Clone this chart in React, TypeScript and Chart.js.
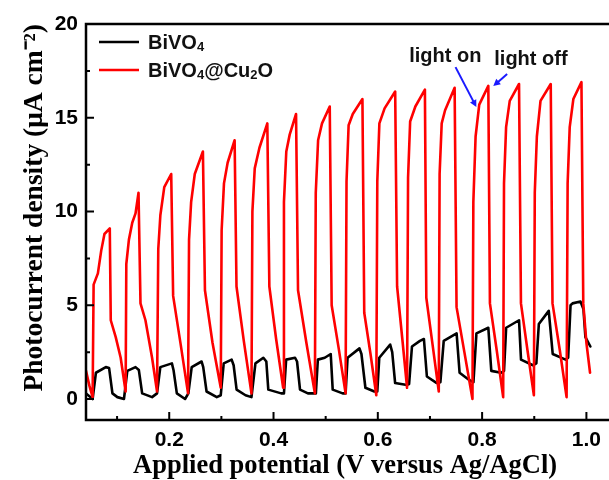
import React, { useEffect, useRef } from "react";
import { Chart, registerables } from "chart.js";

Chart.register(...registerables);

// ---------- data ----------
const seriesLabels = ["BiVO4", "BiVO4@Cu2O"];
const seriesColors = ["#000000", "#ff0000"];

// BiVO4@Cu2O (red)
const redX = [
  0.0404, 0.047, 0.0531,
  0.055, 0.0632, 0.0695, 0.0758, 0.086, 0.0879, 0.0974, 0.1069, 0.1132, 0.1164,
  0.1177, 0.1227, 0.1291, 0.1354, 0.1411, 0.1449, 0.1544, 0.1671, 0.1766,
  0.179, 0.183, 0.1905, 0.2038, 0.2075, 0.222, 0.2361,
  0.238, 0.242, 0.249, 0.2646, 0.2685, 0.283, 0.2988,
  0.3005, 0.305, 0.312, 0.3254, 0.329, 0.343, 0.3577,
  0.3595, 0.364, 0.373, 0.3881, 0.392, 0.405, 0.4185,
  0.42, 0.4245, 0.431, 0.4432, 0.447, 0.463, 0.4793,
  0.481, 0.4855, 0.493, 0.5078, 0.5115, 0.525, 0.5382,
  0.54, 0.544, 0.552, 0.5705, 0.574, 0.586, 0.5971,
  0.599, 0.603, 0.613, 0.6333, 0.637, 0.647, 0.6561,
  0.658, 0.662, 0.672, 0.6903, 0.693, 0.705, 0.7169,
  0.7185, 0.7225, 0.729, 0.7473, 0.751, 0.766, 0.7815,
  0.7832, 0.7875, 0.7945, 0.8119, 0.815, 0.828, 0.8404,
  0.842, 0.846, 0.853, 0.8708, 0.8745, 0.887, 0.8993,
  0.901, 0.905, 0.912, 0.9316, 0.935, 0.949, 0.962,
  0.964, 0.968, 0.975, 0.9905, 0.994, 1.0, 1.007,
];
const redY = [
  1.5, 0.7, 0.1,
  6.1, 6.7, 7.9, 8.8, 9.1, 4.2, 3.3, 2.2, 1.0, 0.4,
  7.2, 8.5, 9.4, 9.9, 11.0, 5.1, 4.2, 2.2, 0.4,
  8.0, 9.8, 11.3, 12.0, 5.5, 2.9, 0.3,
  8.5, 10.5, 12.0, 13.2, 5.8, 3.0, 0.6,
  9.0, 11.5, 12.6, 13.8, 6.0, 3.1, 0.3,
  10.0, 12.3, 13.4, 14.7, 6.0, 3.2, 0.6,
  10.5, 13.2, 14.1, 15.2, 5.8, 3.0, 0.3,
  11.0, 13.8, 14.7, 15.6, 5.0, 2.7, 0.3,
  11.6, 14.6, 15.2, 16.0, 4.6, 2.4, 0.2,
  11.6, 14.7, 15.5, 16.4, 6.0, 3.2, 0.6,
  11.8, 14.8, 15.6, 16.5, 5.4, 2.9, 0.4,
  12.0, 14.7, 15.4, 16.6, 4.9, 2.5, 0.0,
  10.5, 14.0, 15.7, 16.7, 5.1, 2.6, 0.1,
  11.5, 14.5, 15.9, 16.8, 5.1, 2.6, 0.2,
  11.0, 14.0, 15.9, 16.8, 5.1, 2.6, 0.1,
  11.5, 14.5, 16.0, 16.9, 5.1, 3.0, 1.4,
];

// BiVO4 (black)
const blackX = [
  0.0404, 0.0531,
  0.0594, 0.0784, 0.0847, 0.0911, 0.1006, 0.1132,
  0.1196, 0.1354, 0.1417, 0.1481, 0.1671, 0.1766,
  0.1829, 0.2051, 0.2082, 0.2146, 0.2304, 0.2367,
  0.2431, 0.2621, 0.2652, 0.2716, 0.2912, 0.2988,
  0.3045, 0.3197, 0.3235, 0.3292, 0.3463, 0.3577,
  0.3653, 0.3805, 0.3862, 0.39, 0.4147, 0.42,
  0.4242, 0.4413, 0.4451, 0.4508, 0.466, 0.4812,
  0.485, 0.4983, 0.5097, 0.5135, 0.5325, 0.5382,
  0.542, 0.5648, 0.5686, 0.5762, 0.5933, 0.599,
  0.6028, 0.6237, 0.6276, 0.6332, 0.656, 0.66,
  0.6655, 0.6808, 0.6884, 0.6941, 0.7131, 0.72,
  0.7264, 0.7511, 0.7568, 0.7758, 0.7834,
  0.7891, 0.8119, 0.8176, 0.8366, 0.842,
  0.8461, 0.8708, 0.8746, 0.8974, 0.904,
  0.9088, 0.9278, 0.9354, 0.9601, 0.965,
  0.9696, 0.9734, 0.9886, 0.9943, 0.9981, 1.0076,
];
const blackY = [
  0.3, 0.0,
  1.4, 1.7, 1.65, 0.3, 0.1, 0.0,
  1.5, 1.7, 1.55, 0.3, 0.1, 0.3,
  1.7, 1.9, 1.55, 0.3, 0.0, 0.3,
  1.7, 2.0, 1.7, 0.4, 0.1, 0.2,
  1.9, 2.1, 1.8, 0.5, 0.2, 0.1,
  1.9, 2.2, 2.0, 0.5, 0.3, 0.3,
  2.1, 2.2, 2.0, 0.5, 0.3, 0.3,
  2.1, 2.2, 2.4, 0.5, 0.3, 0.3,
  2.2, 2.7, 2.4, 0.6, 0.4, 0.4,
  2.2, 2.9, 2.5, 0.85, 0.75, 0.8,
  2.8, 3.1, 3.2, 1.2, 0.85, 0.9,
  3.1, 3.5, 1.4, 1.0, 0.9,
  3.5, 3.8, 1.5, 1.4, 1.5,
  3.8, 4.2, 2.1, 1.8, 1.9,
  4.0, 4.7, 2.4, 2.1, 2.2,
  5.0, 5.1, 5.2, 4.8, 3.3, 2.8,
];

// axes
const xMin = 0.0404;
const xMax = 1.0342;
const yMin = -1.12;
const yMax = 20;
const xMajorTicks = [0.2, 0.4, 0.6, 0.8, 1.0];
const xMinorTicks = [0.1, 0.3, 0.5, 0.7, 0.9];
const yMajorTicks = [0, 5, 10, 15, 20];
const yMinorTicks = [2.5, 7.5, 12.5, 17.5];
const xTitle = "Applied potential (V versus Ag/AgCl)";
const yTitle = "Photocurrent density (\u03bcA cm\u207b\u00b2)";

// annotations (data coordinates)
const noteTexts = ["light on", "light off"];
const noteX = [0.7295, 0.8936];
const noteY = [17.97, 17.81];
const arrowFromX = [0.749, 0.848];
const arrowFromY = [17.7, 17.33];
const arrowToX = [0.789, 0.8214];
const arrowToY = [15.57, 16.69];

const SANS = "'Liberation Sans', Arial, sans-serif";
const SERIF = "'Liberation Serif', 'Times New Roman', serif";

function drawSubLabel(ctx: CanvasRenderingContext2D, text: string, x: number, y: number) {
  let cx = x;
  for (const ch of text) {
    const sub = /[0-9]/.test(ch);
    ctx.font = sub ? `bold 13px ${SANS}` : `bold 20px ${SANS}`;
    ctx.fillText(ch, cx, sub ? y + 2 : y);
    cx += ctx.measureText(ch).width;
  }
}

const decorPlugin = {
  id: "decor",
  afterDatasetsDraw(chart: any) {
    const { ctx, chartArea: ca, scales } = chart;
    const xs = scales.x;
    const ys = scales.y;
    ctx.save();
    ctx.strokeStyle = "#000";
    ctx.lineWidth = 2.5;
    ctx.beginPath();
    ctx.moveTo(ca.right + 10, ca.top);
    ctx.lineTo(ca.left, ca.top);
    ctx.lineTo(ca.left, ca.bottom);
    ctx.lineTo(ca.right + 10, ca.bottom);
    ctx.stroke();

    ctx.lineWidth = 2;
    ctx.beginPath();
    for (const v of xMajorTicks) {
      const p = xs.getPixelForValue(v);
      ctx.moveTo(p, ca.bottom);
      ctx.lineTo(p, ca.bottom - 8);
    }
    for (const v of xMinorTicks) {
      const p = xs.getPixelForValue(v);
      ctx.moveTo(p, ca.bottom);
      ctx.lineTo(p, ca.bottom - 4);
    }
    for (const v of yMajorTicks) {
      const p = ys.getPixelForValue(v);
      ctx.moveTo(ca.left, p);
      ctx.lineTo(ca.left + 8, p);
    }
    for (const v of yMinorTicks) {
      const p = ys.getPixelForValue(v);
      ctx.moveTo(ca.left, p);
      ctx.lineTo(ca.left + 4, p);
    }
    ctx.stroke();

    // annotations
    ctx.fillStyle = "#111";
    ctx.font = `bold 20px ${SANS}`;
    ctx.textAlign = "center";
    ctx.textBaseline = "alphabetic";
    noteTexts.forEach((t, i) => {
      ctx.fillText(t, xs.getPixelForValue(noteX[i]), ys.getPixelForValue(noteY[i]));
    });
    ctx.strokeStyle = "#1a1aff";
    ctx.fillStyle = "#1a1aff";
    ctx.lineWidth = 2;
    arrowFromX.forEach((_, i) => {
      const x1 = xs.getPixelForValue(arrowFromX[i]);
      const y1 = ys.getPixelForValue(arrowFromY[i]);
      const x2 = xs.getPixelForValue(arrowToX[i]);
      const y2 = ys.getPixelForValue(arrowToY[i]);
      const a = Math.atan2(y2 - y1, x2 - x1);
      const hl = 7;
      const hw = 3.5;
      ctx.beginPath();
      ctx.moveTo(x1, y1);
      ctx.lineTo(x2 - Math.cos(a) * hl * 0.8, y2 - Math.sin(a) * hl * 0.8);
      ctx.stroke();
      ctx.beginPath();
      ctx.moveTo(x2, y2);
      ctx.lineTo(x2 - Math.cos(a) * hl - Math.sin(a) * hw, y2 - Math.sin(a) * hl + Math.cos(a) * hw);
      ctx.lineTo(x2 - Math.cos(a) * hl + Math.sin(a) * hw, y2 - Math.sin(a) * hl - Math.cos(a) * hw);
      ctx.closePath();
      ctx.fill();
    });

    // legend
    ctx.textAlign = "left";
    ctx.textBaseline = "alphabetic";
    seriesLabels.forEach((lab, i) => {
      const ly = ca.top + 18 + i * 28;
      ctx.strokeStyle = seriesColors[i];
      ctx.lineWidth = 2.5;
      ctx.beginPath();
      ctx.moveTo(ca.left + 13, ly);
      ctx.lineTo(ca.left + 53, ly);
      ctx.stroke();
      ctx.fillStyle = "#111";
      drawSubLabel(ctx, lab, ca.left + 62, ly + 7);
    });
    ctx.restore();
  },
};

export default function App() {
  const ref = useRef<HTMLCanvasElement | null>(null);
  useEffect(() => {
    const canvas = ref.current;
    if (!canvas) return;
    const chart = new Chart(canvas, {
      type: "line",
      data: {
        datasets: [
          {
            label: seriesLabels[0],
            data: blackX.map((x, i) => ({ x, y: blackY[i] })),
            borderColor: seriesColors[0],
            borderWidth: 2.6,
            borderJoinStyle: "round",
            borderCapStyle: "round",
            pointRadius: 0,
            tension: 0,
            order: 1,
          },
          {
            label: seriesLabels[1],
            data: redX.map((x, i) => ({ x, y: redY[i] })),
            borderColor: seriesColors[1],
            borderWidth: 2.6,
            borderJoinStyle: "round",
            borderCapStyle: "round",
            pointRadius: 0,
            tension: 0,
            order: 0,
          },
        ],
      },
      options: {
        responsive: false,
        animation: false,
        devicePixelRatio: 1,
        layout: { padding: { top: 24, left: 0, right: 0, bottom: 0 } },
        plugins: { legend: { display: false }, tooltip: { enabled: false } },
        scales: {
          x: {
            type: "linear",
            min: xMin,
            max: xMax,
            afterFit: (s: any) => {
              s.height = 60;
            },
            grid: { display: false, drawTicks: false },
            border: { display: false },
            ticks: {
              stepSize: 0.2,
              includeBounds: false,
              autoSkip: false,
              maxRotation: 0,
              padding: 8,
              color: "#000",
              font: { family: SANS, size: 21, weight: "bold" },
              callback: (v: any) => Number(v).toFixed(1),
            },
            title: {
              display: true,
              text: xTitle,
              color: "#000",
              font: { family: SERIF, size: 26.5, weight: "bold", lineHeight: 1.05 },
              padding: { top: 0, bottom: 0 },
            },
          },
          y: {
            type: "linear",
            min: yMin,
            max: yMax,
            afterFit: (s: any) => {
              s.width = 86;
            },
            grid: { display: false, drawTicks: false },
            border: { display: false },
            ticks: {
              stepSize: 5,
              includeBounds: false,
              padding: 8,
              color: "#000",
              font: { family: SANS, size: 21, weight: "bold" },
              callback: (v: any) => String(v),
            },
            title: {
              display: true,
              text: yTitle,
              align: "end",
              color: "#000",
              font: { family: SERIF, size: 27.5, weight: "bold", lineHeight: 1.2 },
              padding: { top: 18, bottom: 0 },
            },
          },
        },
      },
      plugins: [decorPlugin],
    } as any);
    return () => chart.destroy();
  }, []);
  return (
    <div style={{ position: "fixed", left: 0, top: 0, width: 609, height: 480, background: "#fff" }}>
      <canvas ref={ref} width={609} height={480} style={{ display: "block", width: 609, height: 480 }} />
    </div>
  );
}
